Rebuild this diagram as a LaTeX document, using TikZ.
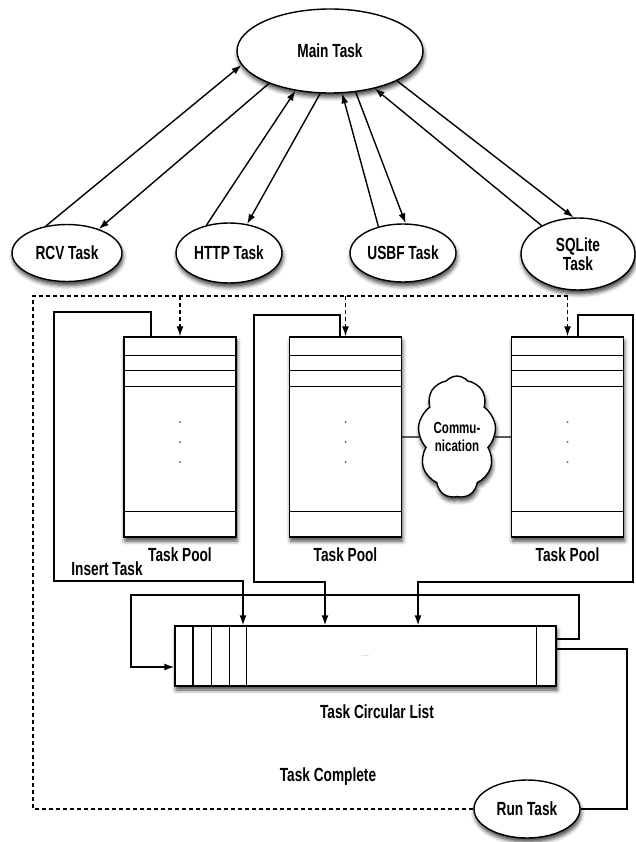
\documentclass[tikz,border=0pt]{standalone}
\usepackage{fontspec}
\newfontfamily\lblfont[FakeStretch=0.72]{Liberation Sans}
\usetikzlibrary{arrows.meta,shapes.geometric,shapes.symbols,shadows.blur,calc}

\begin{document}
\begin{tikzpicture}[x=1pt,y=-1pt,
  every node/.style={font=\lblfont\bfseries\fontsize{19}{20}\selectfont},
  shade/.style={blur shadow={shadow xshift=1pt, shadow yshift=-4pt,
      shadow blur radius=4pt, shadow opacity=75}},
  task/.style={ellipse, draw, line width=1.4pt, fill=white, inner sep=0pt,
      align=center, shade},
  pool/.style={draw, line width=1.4pt, fill=white, inner sep=0pt,
      minimum width=112pt, minimum height=200pt, shade},
  link/.style={line width=1.4pt},
  tip/.style={-{Latex[length=10pt,width=7pt]}},
  flow/.style={link, tip},
  dsh/.style={line width=1.3pt, dash pattern=on 4pt off 3pt},
  dot/.style={fill=#1, draw=none, circle, inner sep=0pt, minimum size=2pt},
  caption/.style={inner sep=0pt}
]
\useasboundingbox (0,0) rectangle (636,842);

% --- tasks ---------------------------------------------------------
\node[task, minimum width=186pt, minimum height=84pt] (main) at (330,51) {Main Task};
\node[task, minimum width=110pt, minimum height=57pt] (rcv)  at (67,253)  {RCV Task};
\node[task, minimum width=106pt, minimum height=60pt] (http) at (229,253) {HTTP Task};
\node[task, minimum width=106pt, minimum height=58pt] (usbf) at (403,253) {USBF Task};
\node[task, minimum width=114pt, minimum height=72pt] (sql)  at (578,254) {SQLite\\[-1pt]Task};

% --- messages between main task and the workers ------------------------
\draw[flow] (rcv.128)  -- (main.189);
\draw[flow] (main.208) -- (rcv.37);
\draw[flow] (http.129) -- (main.229);
\draw[flow] (main.257) -- (http.58);
\draw[flow] (usbf.133) -- (main.286);
\draw[flow] (main.302) -- (usbf.85);
\draw[flow] (sql.142)  -- (main.320);
\draw[flow] (main.336) -- (sql.97);

% --- task pools ------------------------------------------------------
\node[pool] (pool1) at (180,437) {};
\node[pool] (pool2) at (345.5,437) {};
\node[pool] (pool3) at (567.5,437) {};
\foreach \p/\c in {pool1/blue!45!gray, pool2/blue!45!gray, pool3/red!45!gray} {
  \foreach \d in {19,34,50}
    \draw[link] ($(\p.north west)+(0,\d)$) -- ($(\p.north east)+(0,\d)$);
  \draw[link] ($(\p.south west)+(0,-26)$) -- ($(\p.south east)+(0,-26)$);
  \foreach \d in {-15,5,25}
    \node[dot=\c] at ($(\p.center)+(0,\d)$) {};
}
\node[caption] (cap1) at ($(pool1.south)+(0,17)$) {Task Pool};
\node[caption] (cap2) at ($(pool2.south)+(0,17)$) {Task Pool};
\node[caption] (cap3) at ($(pool3.south)+(0,17)$) {Task Pool};

% --- communication between pools -------------------------------------
\node[cloud, draw, line width=1.4pt, fill=white, cloud puffs=9, cloud puff arc=100,
      cloud ignores aspect, minimum width=78pt, minimum height=122pt, inner sep=0pt,
      align=center, shade,
      font=\lblfont\bfseries\fontsize{16}{18}\selectfont] (comm) at (457,437) {Commu-\\nication};
\draw[link] (pool2) -- (comm);
\draw[link] (comm) -- (pool3);

% --- circular list ---------------------------------------------------
\node[draw, line width=1.4pt, fill=white, inner sep=0pt, minimum width=381pt,
      minimum height=60pt, shade] (list) at (365.5,656) {};
\foreach \d in {18.5,37,55,72}
  \draw[link] ($(list.north west)+(\d,0)$) -- ($(list.south west)+(\d,0)$);
\draw[link] ($(list.north east)+(-20,0)$) -- ($(list.south east)+(-20,0)$);
\node[caption, text=blue!40!gray, font=\sffamily\tiny] (ellip) at (list.center) {......};
\node[caption] (caplist) at (377,712) {Task Circular List};

% --- inserting tasks into the list -----------------------------------
\coordinate (i1) at (151,312); \coordinate (i2) at (54,581);  \coordinate (i3) at (243,581);
\coordinate (j1) at (340,315); \coordinate (j2) at (254,582); \coordinate (j3) at (325,582);
\coordinate (k1) at (578,315); \coordinate (k2) at (633,582); \coordinate (k3) at (418,582);
\draw[flow] (pool1.north -| i1) -- (i1) -| (i2) -- (i3) -- (list.north -| i3);
\draw[flow] (pool2.north -| j1) -- (j1) -| (j2) -- (j3) -- (list.north -| j3);
\draw[flow] (pool3.north -| k1) -- (k1) -| (k2) -- (k3) -- (list.north -| k3);
\node[caption] (ins) at (107,569) {Insert Task};

% --- list wraps around -----------------------------------------------
\coordinate (f0) at (0,639); \coordinate (f1) at (579,595); \coordinate (f2) at (131,667);
\draw[flow] (list.east |- f0) -| (f1) -| (f2) -- (list.west |- f2);

% --- running a task --------------------------------------------------
\node[task, minimum width=106pt, minimum height=58pt] (run) at (527,809) {Run Task};
\coordinate (r0) at (0,649); \coordinate (r1) at (627,0);
\draw[link] (list.east |- r0) -| (run.east -| r1) -- (run.east);

% --- completion feeds back into the pools ----------------------------
\coordinate (d0) at (33,296);
\draw[dsh] (run.west) -| (d0) -- (pool3.north |- d0);
\draw[dsh, tip] (pool1.north |- d0) -- (pool1.north);
\draw[dsh, tip] (pool2.north |- d0) -- (pool2.north);
\draw[dsh, tip] (pool3.north |- d0) -- (pool3.north);
\node[caption] (done) at (328,777) {Task Complete};
\end{tikzpicture}
\end{document}
